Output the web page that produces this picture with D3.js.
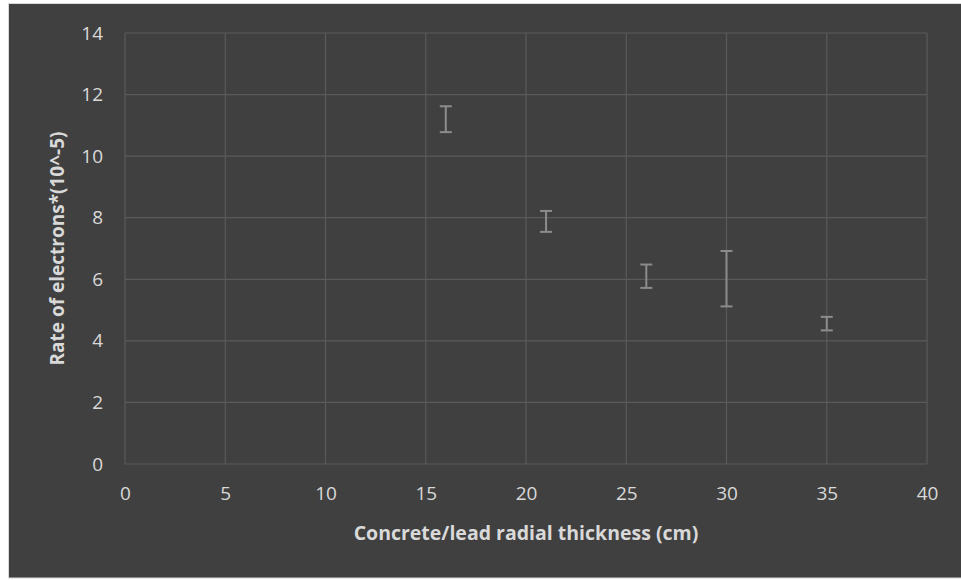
<!DOCTYPE html>
<html>
<head>
<meta charset="utf-8">
<script src="https://cdn.jsdelivr.net/npm/d3@7"></script>
<style>
  body { margin: 0; background: #ffffff; }
  svg { display: block; }
</style>
</head>
<body>
<svg id="chart" width="961" height="580"></svg>
<script>
// thickness (cm), rate, and half-height of the error bar
var thickness = [16, 21, 26, 30, 35];
var rate = [11.2, 7.88, 6.1, 6.02, 4.56];
var err = [0.42, 0.34, 0.38, 0.9, 0.22];
var x_ticks = [0, 5, 10, 15, 20, 25, 30, 35, 40];
var y_ticks = [0, 2, 4, 6, 8, 10, 12, 14];

var data = thickness.map(function(d, i) { return {x: d, y: rate[i], e: err[i]}; });

var svg = d3.select("#chart");
var margin = {top: 33, left: 125, bottom: 116, right: 34};
var width = 961, height = 580;

// outer chart frame
svg.append("rect")
    .attr("x", 8.5).attr("y", 3.5)
    .attr("width", 960).attr("height", 574.5)
    .attr("fill", "#404040")
    .attr("stroke", "#d9d9d9")
    .attr("stroke-width", 1);

var x = d3.scaleLinear()
    .domain([0, 40])
    .range([margin.left, width - margin.right]);

var y = d3.scaleLinear()
    .domain([0, 14])
    .range([height - margin.bottom, margin.top]);

var font = "'Open Sans', 'Noto Sans', sans-serif";

// gridlines
svg.append("g")
    .selectAll("line.vgrid")
    .data(x_ticks)
    .enter().append("line")
    .attr("x1", d => x(d)).attr("x2", d => x(d))
    .attr("y1", y(14)).attr("y2", y(0))
    .attr("stroke", "#5a5a5a")
    .attr("stroke-width", 1.2);

svg.append("g")
    .selectAll("line.hgrid")
    .data(y_ticks)
    .enter().append("line")
    .attr("x1", x(0)).attr("x2", x(40))
    .attr("y1", d => y(d)).attr("y2", d => y(d))
    .attr("stroke", "#5a5a5a")
    .attr("stroke-width", 1.2);

// axes (ticks hidden, only labels)
var xAxis = svg.append("g")
    .attr("transform", `translate(0,${y(0)})`)
    .call(d3.axisBottom(x).tickValues(x_ticks).tickSize(0).tickPadding(23));
xAxis.select(".domain").remove();
xAxis.selectAll("text")
    .attr("fill", "#d9d9d9")
    .attr("font-family", font)
    .attr("font-size", "19px");

var yAxis = svg.append("g")
    .attr("transform", `translate(${x(0)},0)`)
    .call(d3.axisLeft(y).tickValues(y_ticks).tickSize(0).tickPadding(22));
yAxis.select(".domain").remove();
yAxis.selectAll("text")
    .attr("fill", "#d9d9d9")
    .attr("font-family", font)
    .attr("font-size", "19px");

// error bars
var bars = svg.append("g").selectAll("g.err")
    .data(data)
    .enter().append("g")
    .attr("class", "err")
    .attr("stroke", "#8c8c8c")
    .attr("stroke-width", 2);

bars.append("line")
    .attr("x1", d => x(d.x)).attr("x2", d => x(d.x))
    .attr("y1", d => y(d.y + d.e)).attr("y2", d => y(d.y - d.e));
bars.append("line")
    .attr("x1", d => x(d.x) - 6).attr("x2", d => x(d.x) + 6)
    .attr("y1", d => y(d.y + d.e)).attr("y2", d => y(d.y + d.e));
bars.append("line")
    .attr("x1", d => x(d.x) - 6).attr("x2", d => x(d.x) + 6)
    .attr("y1", d => y(d.y - d.e)).attr("y2", d => y(d.y - d.e));

// axis titles
svg.append("text")
    .attr("x", (x(0) + x(40)) / 2)
    .attr("y", 540)
    .attr("text-anchor", "middle")
    .attr("fill", "#d9d9d9")
    .attr("font-family", font)
    .attr("font-weight", "bold")
    .attr("font-size", "19.5px")
    .text("Concrete/lead radial thickness (cm)");

svg.append("text")
    .attr("transform", `translate(64,${(y(0) + y(14)) / 2}) rotate(-90)`)
    .attr("text-anchor", "middle")
    .attr("fill", "#d9d9d9")
    .attr("font-family", font)
    .attr("font-weight", "bold")
    .attr("font-size", "19px")
    .text("Rate of electrons*(10^-5)");
</script>
</body>
</html>
